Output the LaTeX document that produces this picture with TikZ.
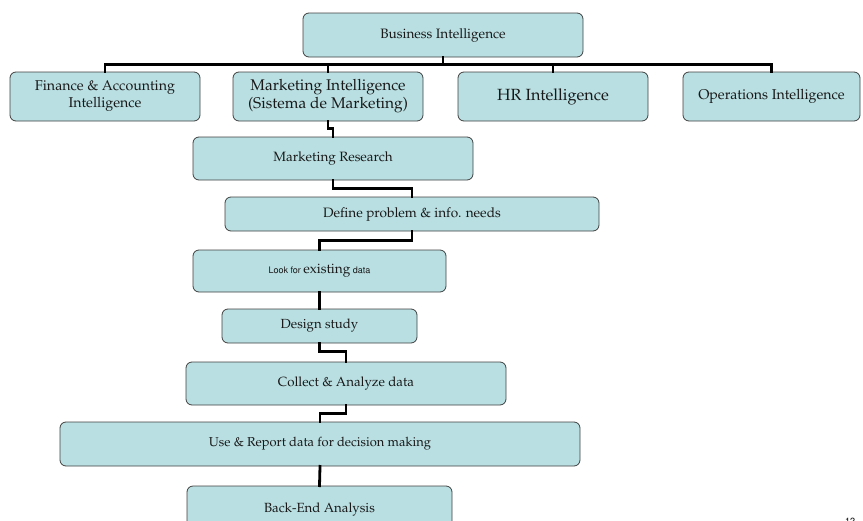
\documentclass[tikz,border=0pt]{standalone}
\usepackage[T1]{fontenc}
\renewcommand\rmdefault{ppl}
\renewcommand\sfdefault{phv}
\begin{document}
\begin{tikzpicture}[x=1pt,y=-1pt,
  box/.style={draw=black!75, line width=0.8pt, rounded corners=6pt,
    fill=boxfill, inner sep=0pt, align=center, text=black!90},
  conn/.style={line width=2.8pt, line cap=rect},
  fs/.style={font=\fontsize{#1}{17}\selectfont}]
\definecolor{boxfill}{RGB}{185,223,226}
\useasboundingbox (0,0) rectangle (863,520);
\clip (0,0) rectangle (863,520);

% top level
\node[box, fs=13.6, minimum width=280pt, minimum height=44pt] (bi) at (443,35) {Business Intelligence};

% second level
\node[box, fs=14.2, minimum width=190pt, minimum height=49pt] (fa) at (105,96.5) {Finance \& Accounting\\Intelligence};
\node[box, font=\fontsize{15.5}{18}\selectfont, minimum width=190pt, minimum height=49pt] (mi) at (328,96.5) {Marketing Intelligence\\(Sistema de Marketing)};
\node[box, fs=16.2, minimum width=190pt, minimum height=49pt] (hr) at (553,96.5) {HR Intelligence};
\node[box, fs=14.2, minimum width=177pt, minimum height=49pt] (op) at (771.5,96.5) {Operations Intelligence};

% research process
\node[box, fs=13.5, minimum width=280pt, minimum height=43pt] (mr) at (333,158.5) {Marketing Research};
\node[box, fs=13.6, minimum width=374pt, minimum height=34pt] (dp) at (412,214) {Define problem \& info. needs};
\node[box, minimum width=253pt, minimum height=42pt] (lf) at (319.5,271)
  {{\sffamily\fontsize{9}{10}\selectfont Look for} {\fontsize{13.6}{15}\selectfont existing} {\sffamily\fontsize{9}{10}\selectfont data}};
\node[box, fs=13.2, minimum width=195pt, minimum height=34pt] (ds) at (319.5,326) {Design study};
\node[box, fs=13.3, minimum width=320pt, minimum height=43pt] (ca) at (346,383.5) {Collect \& Analyze data};
\node[box, fs=12.9, minimum width=520pt, minimum height=44pt] (ur) at (320,444) {Use \& Report data for decision making};
\node[box, fs=13.3, minimum width=265pt, minimum height=48pt] (be) at (319.5,510) {Back-End Analysis};

% page number at the lower edge
\node[font=\sffamily\fontsize{9}{10}\selectfont, anchor=north] (pg) at (850,515) {12};

% tree connectors
\draw[conn] (bi.south) -- ++(0,7) coordinate (bus);
\draw[conn] (bus) -| (fa.north);
\draw[conn] (bus) -| (mi.north);
\draw[conn] (bus) -| (hr.north);
\draw[conn] (bus) -| (op.north);

% process connectors
\draw[conn] (mi.south) -- ++(0,7) -| (mr.north);
\draw[conn] (mr.south) -- ++(0,8) -| (dp.north);
\draw[conn] (dp.south) -- ++(0,9) -| (lf.north);
\draw[conn] (lf.south) -- (ds.north);
\draw[conn] (ds.south) -- ++(0,8) -| (ca.north);
\draw[conn] (ca.south) -- ++(0,8) -| (ur.north);
\draw[conn] (ur.south) -- (be.north);
\end{tikzpicture}
\end{document}
